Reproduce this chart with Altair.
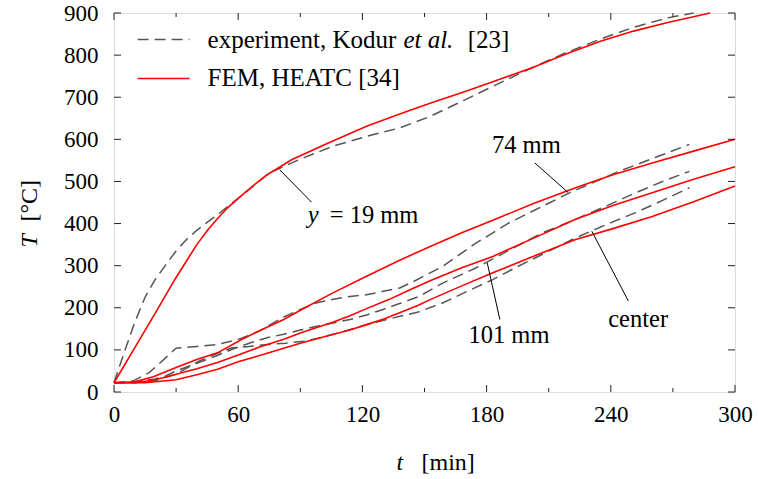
import altair as alt
import pandas as pd

# ---------------- data ----------------
t19_exp = [0, 5, 10, 15, 20, 25, 30, 35, 40, 45, 50, 55, 60, 75, 90, 106, 122, 138, 153, 170, 186, 202, 218, 235, 251, 267, 280]
T19_exp = [22, 95, 165, 225, 268, 302, 335, 362, 384, 403, 421, 441, 460, 520, 553, 584, 607, 627, 655, 695, 733, 770, 805, 838, 866, 888, 900]

t19_fem = [0, 10, 20, 30, 40, 45, 50, 55, 60, 67, 74, 86, 103, 122, 138, 153, 170, 186, 202, 218, 235, 251, 267, 288]
T19_fem = [22, 105, 188, 272, 350, 383, 412, 438, 460, 489, 516, 552, 590, 631, 660, 686, 714, 742, 770, 802, 833, 857, 877, 900]

t74_exp = [0, 9, 17, 24, 30, 40, 50, 60, 70, 77, 82, 90, 98, 106, 114, 122, 130, 138, 145, 159, 175, 191, 207, 220, 244, 262, 278]
T74_exp = [22, 26, 46, 77, 104, 108, 113, 125, 144, 164, 178, 196, 212, 220, 227, 231, 239, 247, 263, 299, 354, 402, 441, 473, 524, 558, 588]

t74_fem = [0, 10, 19, 30, 40, 50, 61, 70, 82, 90, 106, 122, 138, 153, 168, 183, 203, 223, 241, 260, 280, 300]
T74_fem = [22, 24, 36, 58, 77, 93, 123, 145, 172, 194, 236, 275, 313, 346, 378, 408, 448, 485, 516, 544, 572, 600]

t101_exp = [0, 10, 19, 25, 30, 40, 49, 59, 66, 74, 82, 90, 98, 106, 114, 122, 130, 138, 147, 159, 175, 191, 207, 223, 237, 252, 265, 278]
T101_exp = [22, 24, 30, 38, 50, 68, 85, 105, 117, 129, 137, 147, 156, 164, 172, 183, 196, 210, 226, 259, 295, 337, 378, 410, 440, 473, 500, 524]

t101_fem = [0, 10, 19, 30, 40, 50, 60, 70, 82, 90, 106, 114, 122, 133, 143, 153, 168, 183, 203, 223, 241, 260, 280, 300]
T101_fem = [22, 22, 28, 42, 55, 70, 88, 106, 125, 140, 166, 181, 198, 220, 243, 265, 295, 322, 366, 410, 443, 473, 505, 535]

tc_exp = [0, 10, 20, 30, 41, 50, 57, 65, 74, 83, 93, 106, 116, 125, 135, 147, 159, 171, 183, 195, 207, 223, 238, 252, 265, 278]
Tc_exp = [22, 22, 27, 42, 73, 92, 105, 108, 113, 116, 121, 137, 151, 164, 176, 190, 212, 240, 267, 298, 327, 366, 398, 426, 455, 485]

tc_fem = [0, 15, 30, 40, 50, 60, 70, 80, 90, 106, 114, 122, 130, 138, 147, 153, 168, 183, 203, 223, 241, 260, 280, 300]
Tc_fem = [22, 22, 29, 41, 54, 72, 86, 101, 116, 137, 147, 160, 173, 188, 206, 220, 252, 283, 323, 362, 388, 417, 452, 489]

x_major = [0, 60, 120, 180, 240, 300]
x_minor = [30, 90, 150, 210, 270]
y_ticks = [0, 100, 200, 300, 400, 500, 600, 700, 800, 900]

FONT = "Times New Roman, Liberation Serif, DejaVu Serif, serif"
FS_TICK = 23
FS_LEG = 25
FS_ANN = 24.5
FS_TITLE = 24
W, H = 621, 379


def frame(name, t, T):
    return pd.DataFrame({"t": t, "T": T, "series": name})


exp_df = pd.concat([frame("19", t19_exp, T19_exp), frame("74", t74_exp, T74_exp),
                    frame("101", t101_exp, T101_exp), frame("c", tc_exp, Tc_exp)])
fem_df = pd.concat([frame("19", t19_fem, T19_fem), frame("74", t74_fem, T74_fem),
                    frame("101", t101_fem, T101_fem), frame("c", tc_fem, Tc_fem)])

xscale = alt.Scale(domain=[0, 300], nice=False, zero=False)
yscale = alt.Scale(domain=[0, 900], nice=False, zero=False)
xaxis = alt.Axis(values=x_major, title=None, ticks=False, domain=False, grid=False,
                 labelFont=FONT, labelFontSize=FS_TICK, labelColor="black", labelPadding=11,
                 labelFlush=False)
yaxis = alt.Axis(values=y_ticks, title=None, ticks=False, domain=False, grid=False,
                 labelFont=FONT, labelFontSize=FS_TICK, labelColor="black", labelPadding=16)


def X(f="t"):
    return alt.X(f + ":Q", scale=xscale, axis=xaxis)


def Y(f="T"):
    return alt.Y(f + ":Q", scale=yscale, axis=yaxis)


exp_lines = alt.Chart(exp_df).mark_line(color="#555555", strokeWidth=1.5, strokeDash=[11, 6]).encode(
    x=X(), y=Y(), detail="series:N")
fem_lines = alt.Chart(fem_df).mark_line(color="#ff0000", strokeWidth=1.6).encode(
    x=X(), y=Y(), detail="series:N")

# inward ticks
xmaj = pd.DataFrame({"t": x_major})
xmin = pd.DataFrame({"t": x_minor})
ytk = pd.DataFrame({"T": y_ticks})
tick_style = dict(color="#222222", strokeWidth=1)
ticks = [
    alt.Chart(xmaj).mark_rule(**tick_style).encode(x=X(), y=alt.value(H), y2=alt.value(H - 7)),
    alt.Chart(xmin).mark_rule(**tick_style).encode(x=X(), y=alt.value(H), y2=alt.value(H - 4)),
    alt.Chart(xmaj).mark_rule(**tick_style).encode(x=X(), y=alt.value(0), y2=alt.value(7)),
    alt.Chart(xmin).mark_rule(**tick_style).encode(x=X(), y=alt.value(0), y2=alt.value(4)),
    alt.Chart(ytk).mark_rule(**tick_style).encode(y=Y(), x=alt.value(0), x2=alt.value(7)),
    alt.Chart(ytk).mark_rule(**tick_style).encode(y=Y(), x=alt.value(W), x2=alt.value(W - 7)),
]

# leader lines for curve labels (data coordinates)
lead_df = pd.DataFrame({
    "t": [80, 203.3, 186.4, 248.5],
    "T": [528, 544, 172, 216],
    "t2": [95.4, 219.3, 180.3, 230.8],
    "T2": [451, 474, 307, 382],
})
leaders = alt.Chart(lead_df).mark_rule(color="black", strokeWidth=1).encode(
    x=X(), y=Y(), x2="t2:Q", y2="T2:Q")

# curve labels
lab_df = pd.DataFrame({
    "t": [104.2, 199.2, 190.8, 253.2],
    "T": [402, 585, 134, 172],
    "txt": ["= 19 mm", "74 mm", "101 mm", "center"],
})
lab_left = alt.Chart(lab_df.iloc[[0]]).mark_text(font=FONT, fontSize=FS_ANN, align="left", baseline="alphabetic",
                                                  color="black").encode(x=X(), y=Y(), text="txt:N")
lab_center = alt.Chart(lab_df.iloc[1:]).mark_text(font=FONT, fontSize=FS_ANN, align="center", baseline="middle",
                                                   color="black").encode(x=X(), y=Y(), text="txt:N")
ylab_df = pd.DataFrame({"t": [93.6], "T": [402], "txt": ["y"]})
lab_y = alt.Chart(ylab_df).mark_text(font=FONT, fontSize=FS_ANN, align="left", baseline="alphabetic",
                                     fontStyle="italic", color="black").encode(x=X(), y=Y(), text="txt:N")

# legend (drawn inside the plot)
leg_lines = pd.DataFrame({"t": [11.4], "t2": [36.5], "T": [837]})
leg_lines2 = pd.DataFrame({"t": [11.4], "t2": [36.5], "T": [744.5]})
leg_dash = alt.Chart(leg_lines).mark_rule(color="#555555", strokeWidth=1.5, strokeDash=[11, 6]).encode(
    x=X(), x2="t2:Q", y=Y())
leg_red = alt.Chart(leg_lines2).mark_rule(color="#ff0000", strokeWidth=1.6).encode(
    x=X(), x2="t2:Q", y=Y())
leg_txt_df = pd.DataFrame({
    "t": [45.2, 139.8, 170.9, 45.2],
    "T": [837, 837, 837, 744.5],
    "txt": ["experiment, Kodur", "et al.", "[23]", "FEM, HEATC [34]"],
    "sty": ["normal", "italic", "normal", "normal"],
})
leg_txt_n = alt.Chart(leg_txt_df[leg_txt_df.sty == "normal"]).mark_text(
    font=FONT, fontSize=FS_LEG, align="left", baseline="middle", color="black").encode(x=X(), y=Y(), text="txt:N")
leg_txt_i = alt.Chart(leg_txt_df[leg_txt_df.sty == "italic"]).mark_text(
    font=FONT, fontSize=FS_LEG, align="left", baseline="middle", color="black", fontStyle="italic").encode(
    x=X(), y=Y(), text="txt:N")

# axis titles (with italic symbols)
one = pd.DataFrame({"a": [0]})
xt_t = alt.Chart(one).mark_text(font=FONT, fontSize=FS_TITLE, fontStyle="italic", align="left",
                                baseline="alphabetic", color="black", text="t").encode(
    x=alt.value(282.5), y=alt.value(456.5))
xt_u = alt.Chart(one).mark_text(font=FONT, fontSize=FS_TITLE, align="left",
                                baseline="alphabetic", color="black", text="[min]").encode(
    x=alt.value(307.5), y=alt.value(456.5))
yt_t = alt.Chart(one).mark_text(font=FONT, fontSize=FS_TITLE, fontStyle="italic", align="left", angle=270,
                                baseline="alphabetic", color="black", text="T").encode(
    x=alt.value(-77.5), y=alt.value(234.5))
yt_u = alt.Chart(one).mark_text(font=FONT, fontSize=FS_TITLE, align="left", angle=270,
                                baseline="alphabetic", color="black", text="[°C]").encode(
    x=alt.value(-77.5), y=alt.value(208.5))

chart = alt.layer(
    exp_lines, fem_lines, *ticks, leaders, lab_left, lab_center, lab_y,
    leg_dash, leg_red, leg_txt_n, leg_txt_i, xt_t, xt_u, yt_t, yt_u
).properties(
    width=W, height=H,
    autosize=alt.AutoSizeParams(type="none"),
    padding={"left": 114, "top": 13, "right": 23, "bottom": 87},
).configure_view(stroke="#222222", strokeWidth=1.5).configure(background="white")

chart.save("out.html", embed_options={"renderer": "svg", "actions": False})
